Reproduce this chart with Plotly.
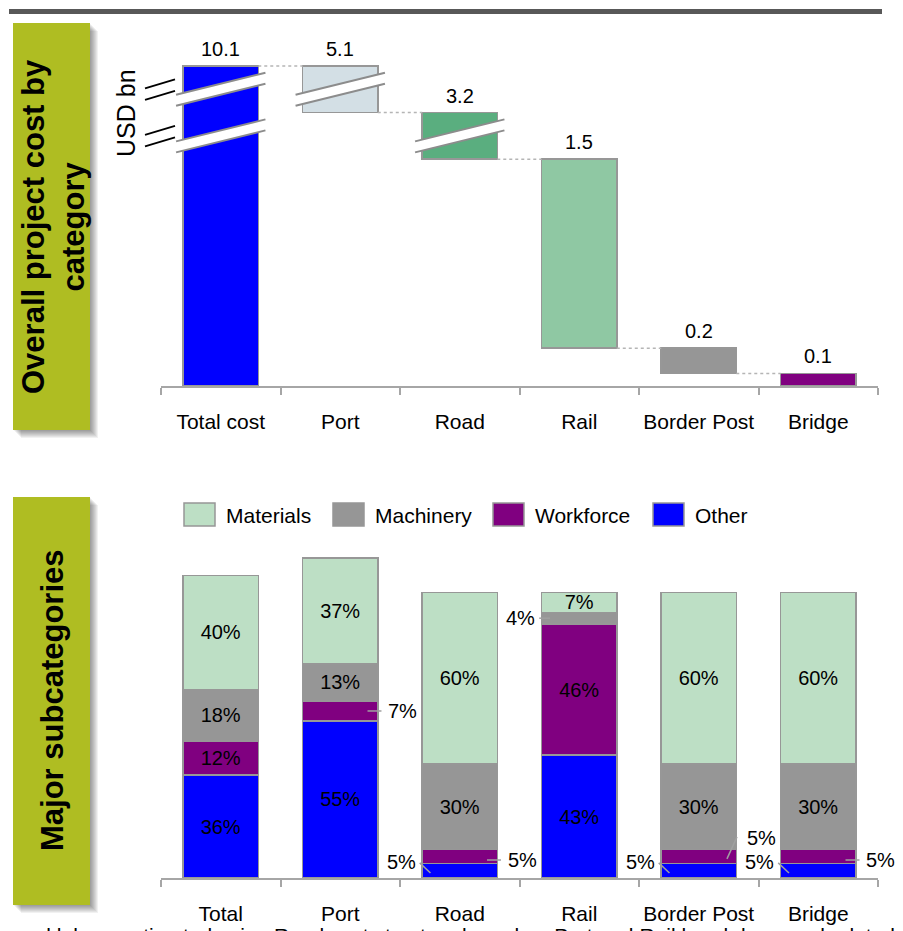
import plotly.graph_objects as go

W, H = 903, 931

# ---------------- data ----------------
top_categories = ["Total cost", "Port", "Road", "Rail", "Border Post", "Bridge"]
top_values = [10.1, 5.1, 3.2, 1.5, 0.2, 0.1]
top_colors = ["#0000ff", "#d3dfe5", "#5aae7f", "#8fc8a3", "#969696", "#800080"]
broken_bars = ["Port", "Road"]          # bars drawn with an axis break

sub_categories = ["Total", "Port", "Road", "Rail", "Border Post", "Bridge"]
other_pct = [36, 55, 5, 43, 5, 5]
workforce_pct = [12, 7, 5, 46, 5, 5]
machinery_pct = [18, 13, 30, 4, 30, 30]
materials_pct = [40, 37, 60, 7, 60, 60]
series_names = ["Other", "Workforce", "Machinery", "Materials"]       # stack order (bottom-up)
legend_order = ["Materials", "Machinery", "Workforce", "Other"]
series_colors = {"Materials": "#bddfc5", "Machinery": "#969696",
                 "Workforce": "#800080", "Other": "#0000ff"}

# labels placed outside the bars, with leader lines
# (category, series, side, text dy, leader start dy, leader end dy)
callouts = [
    ("Port", "Workforce", "right", 0.0, 0.0, 0.0),
    ("Road", "Other", "left", 3.1, -0.75, 2.8),
    ("Road", "Workforce", "right", -1.2, -1.2, -1.2),
    ("Rail", "Machinery", "left", 0.0, 0.0, 0.0),
    ("Border Post", "Other", "left", 3.1, -0.75, 2.8),
    ("Border Post", "Workforce", "right_up", 6.5, -0.8, 6.9),
    ("Bridge", "Other", "left", 3.1, -0.75, 2.8),
    ("Bridge", "Workforce", "right", -1.2, -1.2, -1.2),
]

footnote = "and labour estimated using Road cost structure based on Port and Rail breakdown and related data"

# ---------------- style ----------------
FONT = "Liberation Sans, Arial, sans-serif"
EDGE = "#979797"
AXIS = "#a6a6a6"
OLIVE = "#afbd22"
BW = 0.628
BROKEN_HEIGHT = 0.37


def px(x):
    return x / W


def py(y):
    return 1 - y / H


# waterfall geometry
tops, bottoms = [top_values[0]], [0.0]
running = top_values[0]
for v in top_values[1:]:
    tops.append(running)
    bottoms.append(round(running - v, 6))
    running = round(running - v, 6)

compress = [(bottoms[i], tops[i]) for i, c in enumerate(top_categories) if c in broken_bars]


def disp(v):
    d = v
    for lo, hi in compress:
        ov = max(0.0, min(v, hi) - lo)
        d -= ov * (1 - BROKEN_HEIGHT / (hi - lo))
    return d


fig = go.Figure()

fig.add_trace(go.Bar(
    x=top_categories,
    y=[disp(t) - disp(b) for t, b in zip(tops, bottoms)],
    base=[disp(b) for b in bottoms],
    width=BW,
    marker=dict(color=top_colors, line=dict(color=EDGE, width=1.5)),
    xaxis="x", yaxis="y", showlegend=False, hoverinfo="skip",
))

series_vals = {"Other": other_pct, "Workforce": workforce_pct,
               "Machinery": machinery_pct, "Materials": materials_pct}
outside = {(c, s) for c, s, *_ in callouts}

for s in series_names:
    vals = series_vals[s]
    txt = ["" if (c, s) in outside else f"{v}%" for c, v in zip(sub_categories, vals)]
    fig.add_trace(go.Bar(
        x=sub_categories, y=vals, name=s, width=BW,
        marker=dict(color=series_colors[s], line=dict(color=EDGE, width=1.5)),
        text=txt, textposition="inside", insidetextanchor="middle", textangle=0,
        insidetextfont=dict(family=FONT, size=20, color="black"),
        xaxis="x2", yaxis="y2", showlegend=False, hoverinfo="skip",
    ))

shapes = []
annotations = []

# header bar
shapes.append(dict(type="rect", xref="paper", yref="paper", x0=px(9), x1=px(882),
                   y0=py(14), y1=py(9), fillcolor="#585858", line=dict(width=0), layer="below"))

# olive title boxes with shadow
for (y0, y1) in [(23, 430), (497, 905)]:
    for k in range(1, 9):
        shapes.append(dict(type="rect", xref="paper", yref="paper",
                           x0=px(13 + k), x1=px(90 + k), y0=py(y1 + k), y1=py(y0 + k),
                           fillcolor="rgba(0,0,0,0.055)", line=dict(width=0), layer="below"))
    shapes.append(dict(type="rect", xref="paper", yref="paper", x0=px(13), x1=px(90),
                       y0=py(y1), y1=py(y0), fillcolor=OLIVE, line=dict(width=0), layer="below"))

annotations.append(dict(text="<b>Overall project cost by<br>category</b>", textangle=-90,
                        xref="paper", yref="paper", x=px(54), y=py(227), showarrow=False,
                        xanchor="center", yanchor="middle", align="center",
                        font=dict(family=FONT, size=31, color="black")))
annotations.append(dict(text="<b>Major subcategories</b>", textangle=-90,
                        xref="paper", yref="paper", x=px(52), y=py(701), showarrow=False,
                        xanchor="center", yanchor="middle",
                        font=dict(family=FONT, size=31, color="black")))

annotations.append(dict(text="USD bn", textangle=-90, xref="paper", yref="paper",
                        x=px(126), y=py(113), showarrow=False, xanchor="center", yanchor="middle",
                        font=dict(family=FONT, size=25, color="black")))

# value labels above waterfall bars
for i, (c, v, t) in enumerate(zip(top_categories, top_values, tops)):
    annotations.append(dict(text=f"{v:g}", xref="x", yref="y", x=i, y=disp(t),
                            xanchor="center", yanchor="bottom", yshift=4, showarrow=False,
                            font=dict(family=FONT, size=20, color="black")))

# dotted connectors
for i in range(len(top_categories) - 1):
    lvl = disp(tops[i + 1])
    shapes.append(dict(type="line", xref="x", yref="y", x0=i + BW / 2, x1=i + 1 - BW / 2,
                       y0=lvl, y1=lvl, line=dict(color="#b5b5b5", width=1.5, dash="dot")))

# axis-break marks
rise = 11 / 126
half = 5.5 / 126
ext = BW / 2 + 0.06
for lo, hi in compress:
    yc = disp((lo + hi) / 2)
    for i in range(len(top_categories)):
        if bottoms[i] <= lo and tops[i] >= hi:
            x0, x1 = i - ext, i + ext
            path = (f"M {x0},{yc - rise - half} L {x1},{yc + rise - half} "
                    f"L {x1},{yc + rise + half} L {x0},{yc - rise + half} Z")
            shapes.append(dict(type="path", xref="x", yref="y", path=path,
                               fillcolor="white", line=dict(width=0), layer="above"))
            for sgn in (-1, 1):
                shapes.append(dict(type="line", xref="x", yref="y", x0=x0, x1=x1,
                                   y0=yc - rise + sgn * half, y1=yc + rise + sgn * half,
                                   line=dict(color="#8c8c8c", width=2), layer="above"))
    r2 = 4.5 / 126
    for off in (5.5 / 126, -6 / 126):
        shapes.append(dict(type="line", xref="paper", yref="y", x0=px(145), x1=px(175),
                           y0=yc + off - r2, y1=yc + off + r2,
                           line=dict(color="black", width=1.8)))

# bottom callouts
for c, s, side, tdy, l0, l1 in callouts:
    idx = sub_categories.index(c)
    k = series_names.index(s)
    base = sum(series_vals[n][idx] for n in series_names[:k])
    mid = base + series_vals[s][idx] / 2
    if side == "left":
        lx0, lx1, tx, anchor = -0.245, -0.335, -0.352, "right"
    elif side == "right_up":
        lx0, lx1, tx, anchor = 0.236, 0.32, 0.385, "left"
    else:
        lx0, lx1, tx, anchor = 0.228, 0.345, 0.385, "left"
    shapes.append(dict(type="line", xref="x2", yref="y2", x0=idx + lx0, x1=idx + lx1,
                       y0=mid + l0, y1=mid + l1, line=dict(color="#a0a0a0", width=1.5),
                       layer="above"))
    annotations.append(dict(text=f"{series_vals[s][idx]}%", xref="x2", yref="y2",
                            x=idx + tx, y=mid + tdy, xanchor=anchor, yanchor="middle",
                            showarrow=False, font=dict(family=FONT, size=20, color="black")))

# custom legend
sw_left = [184, 333, 493, 653]
for name, xl in zip(legend_order, sw_left):
    shapes.append(dict(type="rect", xref="paper", yref="paper", x0=px(xl), x1=px(xl + 31),
                       y0=py(526), y1=py(503), fillcolor=series_colors[name],
                       line=dict(color=EDGE, width=1.5)))
    annotations.append(dict(text=name, xref="paper", yref="paper", x=px(xl + 40), y=py(515),
                            xanchor="left", yanchor="middle", showarrow=False,
                            font=dict(family=FONT, size=21, color="black")))

# footnote (cut at bottom edge, as in the original)
annotations.append(dict(text=footnote,
                        xref="paper", yref="paper", x=px(14), y=py(922), xanchor="left", yanchor="top",
                        showarrow=False, font=dict(family=FONT, size=21, color="black")))

xaxis_common = dict(showline=True, linecolor=AXIS, linewidth=1.5, ticks="outside",
                    tickson="boundaries", ticklen=7, tickwidth=1.5, tickcolor=AXIS,
                    showgrid=False, zeroline=False, range=[-0.5, 5.5], fixedrange=True,
                    tickangle=0, automargin=False,
                    tickfont=dict(family=FONT, size=21, color="black"),
                    ticklabelstandoff=16)

fig.update_layout(
    width=W, height=H, margin=dict(l=0, r=0, t=0, b=0, autoexpand=False),
    paper_bgcolor="white", plot_bgcolor="white",
    barmode="stack", showlegend=False,
    uniformtext=dict(minsize=20, mode="show"),
    font=dict(family=FONT, color="black"),
    xaxis=dict(domain=[px(161), px(878)], anchor="y", **xaxis_common),
    yaxis=dict(domain=[py(386), py(40)], anchor="x", range=[0, 346 / 126], visible=False,
               automargin=False),
    xaxis2=dict(domain=[px(161), px(878)], anchor="y2", **xaxis_common),
    yaxis2=dict(domain=[py(878), py(550)], anchor="x2", range=[0, 328 / 2.855], visible=False,
                automargin=False),
    shapes=shapes, annotations=annotations,
)

fig.write_html("out.html")
